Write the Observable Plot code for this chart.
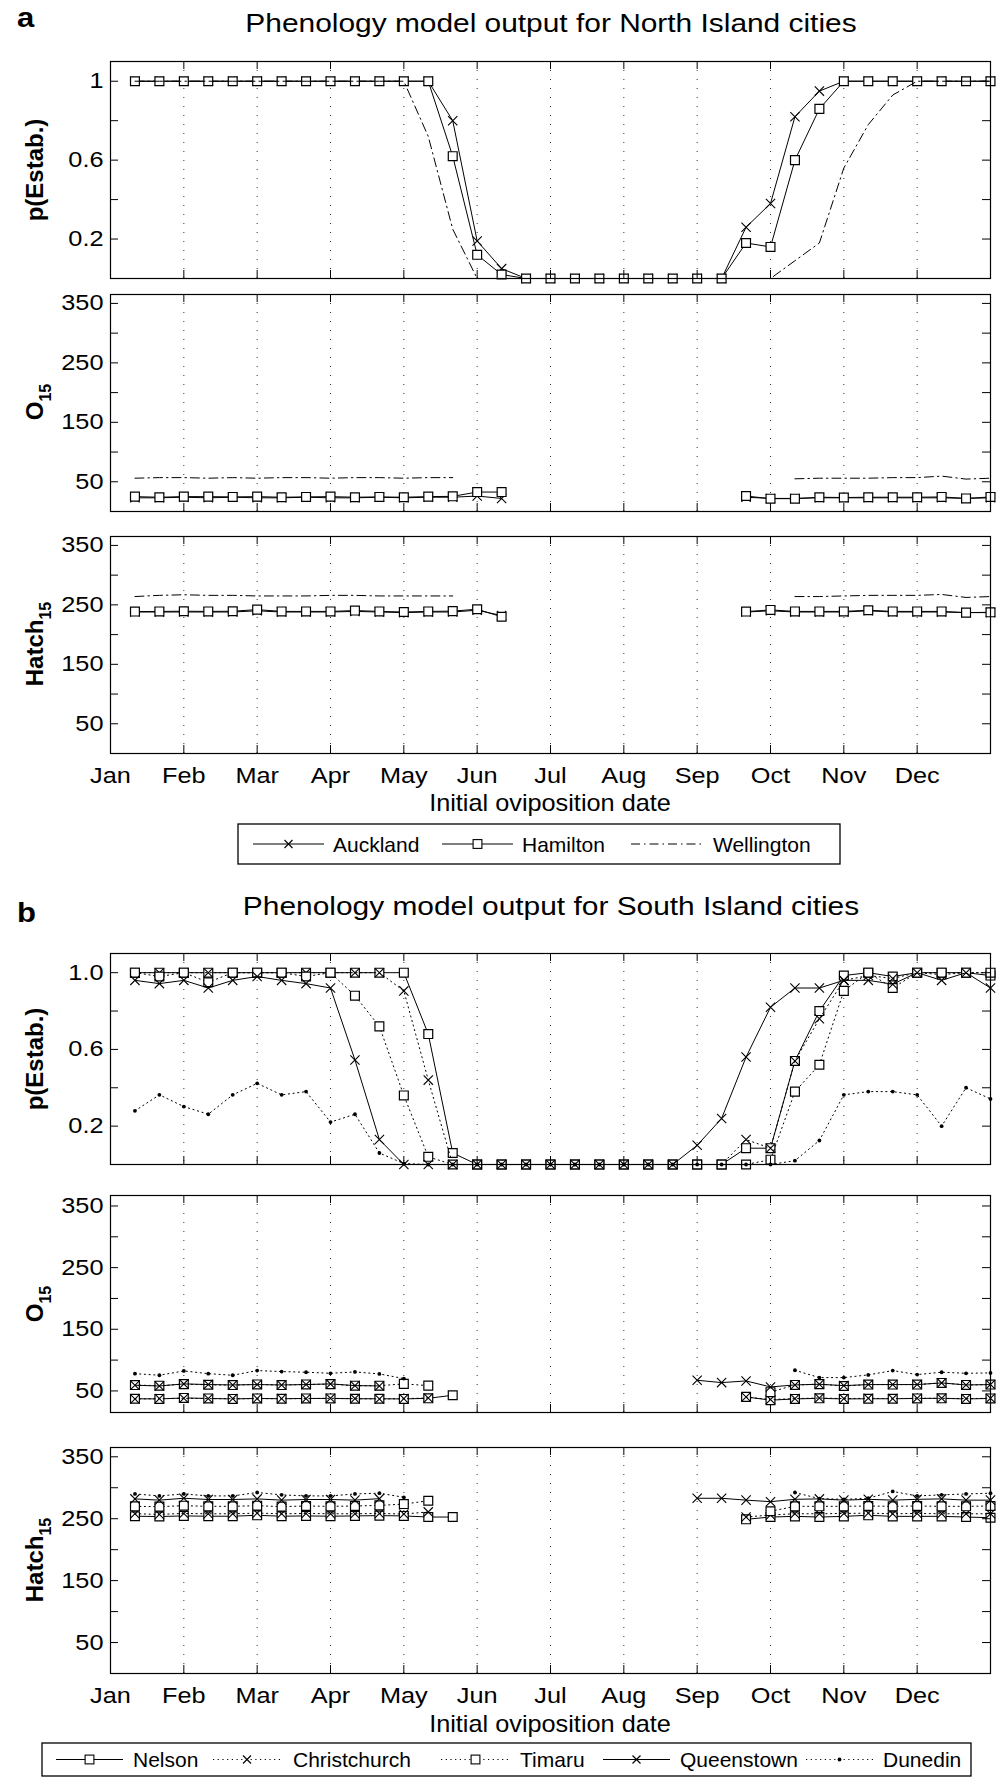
<!DOCTYPE html>
<html><head><meta charset="utf-8">
<script src="https://cdn.jsdelivr.net/npm/d3@7"></script>
<script src="https://cdn.jsdelivr.net/npm/@observablehq/plot@0.6"></script>
<style>
body{margin:0;background:#fff;}
#root{position:relative;width:1000px;height:1777px;overflow:hidden;background:#fff;}
#root svg{position:absolute;left:0;}
</style></head><body><div id="root"></div>
<script>
// ---------- data ----------
const monthNames = ["Jan","Feb","Mar","Apr","May","Jun","Jul","Aug","Sep","Oct","Nov","Dec"];
const monthTicks = [0,1,2,3,4,5,6,7,8,9,10,11];
const gridMonths = [1,2,3,4,5,6,7,8,9,10,11];
// sample number (three samples per month)
const sampleIndex = [1,2,3,4,5,6,7,8,9,10,11,12,13,14,15,16,17,18,19,20,21,22,23,24,25,26,27,28,29,30,31,32,33,34,35,36];
const pTicks = [0.2,0.4,0.6,0.8,1.0];
const pLabels = [0.2,0.6,1.0];
const dayTicks = [50,100,150,200,250,300,350];
const dayLabels = [50,150,250,350];

// North Island
const aucklandP = [1,1,1,1,1,1,1,1,1,1,1,1,1,0.80,0.19,0.05,0,0,0,0,0,0,0,0,0,0.26,0.38,0.82,0.95,1,1,1,1,1,1,1];
const hamiltonP = [1,1,1,1,1,1,1,1,1,1,1,1,1,0.62,0.12,0.02,0,0,0,0,0,0,0,0,0,0.18,0.16,0.60,0.86,1,1,1,1,1,1,1];
const wellingtonP = [1,1,1,1,1,1,1,1,1,1,1,1,0.72,0.25,0,0,0,0,0,0,0,0,0,0,0,0,0,0.09,0.18,0.56,0.78,0.93,1,1,1,1];
const aucklandO15 = [23,23,24,23,24,23,23,24,23,23,24,23,24,24,26,22,null,null,null,null,null,null,null,null,null,24,22,22,23,23,23,23,23,23,22,23];
const hamiltonO15 = [25,24,25,25,24.5,25,24,24.5,25,24,24.5,24,25,25.5,32.7,32.7,null,null,null,null,null,null,null,null,null,26,21.6,21.6,24,23.5,24,24,24,24.5,22,24.5];
const wellingtonO15 = [56,57,57,56,57,56,57,57,56,57,57,56,57,57,null,null,null,null,null,null,null,null,null,null,null,null,null,55,56,56,56,57,57,59.5,54.5,56];
const aucklandHatch = [238,238,238,238,238,240,238,238,238,239,238,237,238,238,241,232,null,null,null,null,null,null,null,null,null,238,240,238,238,238,240,238,238,238,237,237];
const hamiltonHatch = [238.7,239,239.3,239,239.3,242,239,239,239,240.4,239,238,239,239.5,242.7,230,null,null,null,null,null,null,null,null,null,238.7,241.5,239,239,239,241,239,239,239,237,237.5];
const wellingtonHatch = [264,266,267,266,266,265,265,265,266,266,265,265,265,265,null,null,null,null,null,null,null,null,null,null,null,null,null,264,264,265,266,266,266,267.5,262.5,264];

// South Island
const nelsonP = [1,1,1,1,1,1,1,1,1,1,1,1,0.68,0.06,0,0,0,0,0,0,0,0,0,0,0,0.085,0.085,0.54,0.80,0.985,1,0.98,1,1,1,0.985];
const christchurchP = [1,1,1,1,1,1,1,1,1,1,1,0.905,0.44,0,0,0,0,0,0,0,0,0,0,0,0,0.13,0.085,0.54,0.76,0.96,0.985,0.97,1,0.99,1,1];
const timaruP = [1,0.98,1,0.95,1,1,1,0.98,1,0.88,0.72,0.36,0.04,0,0,0,0,0,0,0,0,0,0,0,0,0,0.025,0.38,0.52,0.905,1,0.92,1,1,1,1];
const queenstownP = [0.96,0.943,0.96,0.92,0.96,0.98,0.96,0.943,0.92,0.545,0.13,0,0,0,0,0,0,0,0,0,0,0,0,0.10,0.24,0.56,0.82,0.92,0.92,0.96,0.96,0.94,1,0.96,1,0.92];
const dunedinP = [0.28,0.363,0.302,0.262,0.363,0.423,0.363,0.38,0.221,0.262,0.06,0.005,0,0,0,0,0,0,0,0,0,0,0,0,0,0,0,0.02,0.125,0.363,0.38,0.38,0.363,0.2,0.4,0.342];
const nelsonO15 = [37.3,37,38.6,37.8,37,37.8,37.3,37.8,37.8,37.3,37.3,37,38,43,null,null,null,null,null,null,null,null,null,null,null,40.3,35,37,38,37,37.3,37.3,37.8,38,37,37.8];
const christchurchO15 = [37,37.5,38,37.5,37.5,37.5,37.5,37.5,38,37.5,37,37.5,38.5,null,null,null,null,null,null,null,null,null,null,null,null,40,36,37.5,38.5,37.5,38,37.5,38,38,37.5,38];
const timaruO15 = [59.5,58.5,61,60,59.5,60.5,59.5,60.5,61,58.5,58.5,61.4,58.6,null,null,null,null,null,null,null,null,null,null,null,null,null,48,59.7,61,58,60.3,60.3,60.3,63,59.7,60.3];
const queenstownO15 = [59.2,58,61.4,60.3,59.7,60.3,59.7,60.3,61.4,58.6,58.1,null,null,null,null,null,null,null,null,null,null,null,null,67.3,63.5,66.2,56.5,59.7,60.8,58.6,60.3,60.3,60.3,63,59.7,60.3];
const dunedinO15 = [78,75.4,82.4,78,75.4,83,81.4,80.3,78.6,80.8,77.6,70,null,null,null,null,null,null,null,null,null,null,null,null,null,null,null,83.5,71.6,71.6,76,83,76.5,80.3,78.6,79.2];
const nelsonHatch = [254,253.5,254.5,254,254,255.5,254,254.5,254,254.5,255,254.5,252.7,252.7,null,null,null,null,null,null,null,null,null,null,null,249,252.7,253.8,252.7,253.8,255.5,253.8,253.8,253.8,252.7,251.6];
const christchurchHatch = [258,257,258.5,258,258,259,258,258.5,258,258,258.5,257.5,261,null,null,null,null,null,null,null,null,null,null,null,null,252.7,256,258,258,258.5,259,258,258.5,258,258,258];
const timaruHatch = [270,269.5,271,270,270,271,269.5,270.5,270,270.5,271.5,273.6,279,null,null,null,null,null,null,null,null,null,null,null,null,null,262,270,270,270,270.5,270,270.5,270,270,270.5];
const queenstownHatch = [282,280,283,281,281,282,280,281,281,280,282.4,null,null,null,null,null,null,null,null,null,null,null,null,283,283,280,277.5,281.3,282,280,281.3,280,281.3,282,280,280];
const dunedinHatch = [290,286.8,290,286.8,286.8,292.3,288.5,286.8,286.8,290,291.2,284.6,null,null,null,null,null,null,null,null,null,null,null,null,null,null,null,292.3,282.4,281.3,283,294,286.8,288.5,290,291.2];

// ---------- styles ----------
const DASH = {solid: null, dotted: "1.2,3.5", dashdot: "9,4,1.5,4"};
const TEXT_SX = 1.15;
const FONT = "'Liberation Sans', Arial, Helvetica, sans-serif";

const northStyles = {
  Auckland: {dash: "solid", marker: "times"},
  Hamilton: {dash: "solid", marker: "square"},
  Wellington: {dash: "dashdot", marker: null}
};
const southStyles = {
  Nelson: {dash: "solid", marker: "square"},
  Christchurch: {dash: "dotted", marker: "times"},
  Timaru: {dash: "dotted", marker: "square"},
  Queenstown: {dash: "solid", marker: "times"},
  Dunedin: {dash: "dotted", marker: "dot"}
};

function rowsOf(vals) {
  return sampleIndex.map((k, i) => ({month: k / 3, v: vals[i]}));
}

function seriesMarks(vals, st) {
  const rows = rowsOf(vals);
  const out = [Plot.line(rows, {x: "month", y: "v", stroke: "black", strokeWidth: 1, strokeDasharray: DASH[st.dash]})];
  if (st.marker === "square") out.push(Plot.dot(rows, {x: "month", y: "v", symbol: "square", r: 5, fill: "white", stroke: "black", strokeWidth: 1.2}));
  if (st.marker === "times") out.push(Plot.dot(rows, {x: "month", y: "v", symbol: "times", r: 4.3, stroke: "black", strokeWidth: 1.1}));
  if (st.marker === "dot") out.push(Plot.dot(rows, {x: "month", y: "v", r: 1.9, fill: "black", stroke: "none"}));
  return out;
}

const root = document.getElementById("root");

function stretchText(svg, sx) {
  svg.querySelectorAll("text").forEach(t => {
    const x = parseFloat(t.getAttribute("x") || "0") || 0;
    const tr = t.getAttribute("transform") || "";
    t.setAttribute("transform", `${tr} translate(${x},0) scale(${sx},1) translate(${-x},0)`);
  });
}

function panel({top, H, yDomain, yTicks, yLabels, fmt, series, styles, showX}) {
  const mt = 12, mb = showX ? 60 : 12;
  const marks = [Plot.ruleX(gridMonths, {x: d => d, stroke: "#333", strokeWidth: 1, strokeDasharray: "1,8"})];
  for (const [name, vals] of series) marks.push(...seriesMarks(vals, styles[name]));
  marks.push(Plot.frame({stroke: "black", strokeWidth: 1.2}));
  marks.push(Plot.ruleX(gridMonths, {x: d => d, y1: yDomain[0], y2: yDomain[0], insetTop: -8, stroke: "black"}));
  marks.push(Plot.ruleX(gridMonths, {x: d => d, y1: yDomain[1], y2: yDomain[1], insetBottom: -8, stroke: "black"}));
  marks.push(Plot.ruleY(yTicks, {y: d => d, x1: 0, x2: 0, insetRight: -8, stroke: "black"}));
  marks.push(Plot.ruleY(yTicks, {y: d => d, x1: 12, x2: 12, insetLeft: -8, stroke: "black"}));
  const svg = Plot.plot({
    width: 1000, height: mt + H + mb,
    marginLeft: 110, marginRight: 10, marginTop: mt, marginBottom: mb,
    x: {domain: [0, 12], ticks: monthTicks, tickFormat: i => monthNames[i], tickSize: 0, tickPadding: 14, label: null, axis: showX ? "bottom" : null},
    y: {domain: yDomain, ticks: yLabels, tickFormat: fmt, tickSize: 0, tickPadding: 7, label: null},
    style: {fontFamily: FONT, fontSize: "22px", color: "black", background: "none", overflow: "visible"},
    marks
  });
  svg.style.top = (top - mt) + "px";
  root.appendChild(svg);
  stretchText(svg, TEXT_SX);
  return svg;
}

const fmtA = d => String(d);
const fmtB = d => d3.format(".1f")(d);

// Panel a
panel({top: 61, H: 217, yDomain: [0, 1.1], yTicks: pTicks, yLabels: pLabels, fmt: fmtA, styles: northStyles,
  series: [["Auckland", aucklandP], ["Hamilton", hamiltonP], ["Wellington", wellingtonP]]});
panel({top: 294, H: 217, yDomain: [0, 365], yTicks: dayTicks, yLabels: dayLabels, fmt: fmtA, styles: northStyles,
  series: [["Auckland", aucklandO15], ["Hamilton", hamiltonO15], ["Wellington", wellingtonO15]]});
panel({top: 536, H: 217, yDomain: [0, 365], yTicks: dayTicks, yLabels: dayLabels, fmt: fmtA, styles: northStyles, showX: true,
  series: [["Auckland", aucklandHatch], ["Hamilton", hamiltonHatch], ["Wellington", wellingtonHatch]]});
// Panel b
panel({top: 953, H: 211, yDomain: [0, 1.1], yTicks: pTicks, yLabels: pLabels, fmt: fmtB, styles: southStyles,
  series: [["Nelson", nelsonP], ["Christchurch", christchurchP], ["Timaru", timaruP], ["Queenstown", queenstownP], ["Dunedin", dunedinP]]});
panel({top: 1195, H: 217, yDomain: [15, 367], yTicks: dayTicks, yLabels: dayLabels, fmt: fmtA, styles: southStyles,
  series: [["Nelson", nelsonO15], ["Christchurch", christchurchO15], ["Timaru", timaruO15], ["Queenstown", queenstownO15], ["Dunedin", dunedinO15]]});
panel({top: 1447, H: 226, yDomain: [0, 365], yTicks: dayTicks, yLabels: dayLabels, fmt: fmtA, styles: southStyles, showX: true,
  series: [["Nelson", nelsonHatch], ["Christchurch", christchurchHatch], ["Timaru", timaruHatch], ["Queenstown", queenstownHatch], ["Dunedin", dunedinHatch]]});

// ---------- overlay: titles, axis titles, legends ----------
const ov = d3.create("svg").attr("width", 1000).attr("height", 1777)
  .style("top", "0px").style("font-family", FONT).style("pointer-events", "none");
root.appendChild(ov.node());

function txt(str, x, y, {size = 21, weight = "normal", anchor = "start", sx = TEXT_SX, rotate = 0} = {}) {
  return ov.append("text").attr("font-size", size).attr("font-weight", weight).attr("text-anchor", anchor)
    .attr("fill", "black")
    .attr("transform", `translate(${x},${y}) rotate(${rotate}) scale(${sx},1)`).text(str);
}
function ylab(main, sub, cy) {
  const t = ov.append("text").attr("font-size", 24).attr("font-weight", "bold").attr("text-anchor", "middle")
    .attr("transform", `translate(34,${cy}) rotate(-90)`).attr("dy", "0.36em");
  t.append("tspan").text(main);
  if (sub) t.append("tspan").attr("font-size", 16).attr("dy", 8).text(sub);
}

txt("a", 17, 27, {size: 27, weight: "bold"});
txt("Phenology model output for North Island cities", 551, 32, {size: 26, anchor: "middle"});
ylab("p(Estab.)", null, 170);
ylab("O", "15", 402);
ylab("Hatch", "15", 644);
txt("Initial oviposition date", 550, 811, {size: 23, anchor: "middle", sx: 1.1});

txt("b", 17, 922, {size: 27, weight: "bold"});
txt("Phenology model output for South Island cities", 551, 915, {size: 26, anchor: "middle"});
ylab("p(Estab.)", null, 1059);
ylab("O", "15", 1304);
ylab("Hatch", "15", 1560);
txt("Initial oviposition date", 550, 1732, {size: 23, anchor: "middle", sx: 1.1});

// legends
function legend(box, items) {
  ov.append("rect").attr("x", box.x).attr("y", box.y).attr("width", box.w).attr("height", box.h)
    .attr("fill", "white").attr("stroke", "black").attr("stroke-width", 1.3);
  const cy = box.y + box.h / 2;
  for (const it of items) {
    ov.append("line").attr("x1", it.x0).attr("x2", it.x1).attr("y1", cy).attr("y2", cy)
      .attr("stroke", "black").attr("stroke-width", 1).attr("stroke-dasharray", DASH[it.dash]);
    const mx = (it.x0 + it.x1) / 2;
    if (it.marker === "square") ov.append("rect").attr("x", mx - 4.4).attr("y", cy - 4.4).attr("width", 8.8).attr("height", 8.8)
      .attr("fill", "white").attr("stroke", "black").attr("stroke-width", 1.1);
    if (it.marker === "times") ov.append("path").attr("d", `M${mx-4},${cy-4}L${mx+4},${cy+4}M${mx-4},${cy+4}L${mx+4},${cy-4}`)
      .attr("stroke", "black").attr("stroke-width", 1.1);
    if (it.marker === "dot") ov.append("circle").attr("cx", mx).attr("cy", cy).attr("r", 1.9).attr("fill", "black");
    txt(it.label, it.tx, cy + 7.5, {size: 21, sx: 1.0});
  }
}
legend({x: 238, y: 824, w: 602, h: 40}, [
  {label: "Auckland", x0: 253, x1: 324, tx: 333, ...northStyles.Auckland},
  {label: "Hamilton", x0: 442, x1: 513, tx: 522, ...northStyles.Hamilton},
  {label: "Wellington", x0: 631, x1: 702, tx: 713, ...northStyles.Wellington}
]);
legend({x: 42, y: 1743, w: 929, h: 33}, [
  {label: "Nelson", x0: 56, x1: 123, tx: 133, ...southStyles.Nelson},
  {label: "Christchurch", x0: 213, x1: 281, tx: 293, ...southStyles.Christchurch},
  {label: "Timaru", x0: 441, x1: 510, tx: 520, ...southStyles.Timaru},
  {label: "Queenstown", x0: 603, x1: 670, tx: 680, ...southStyles.Queenstown},
  {label: "Dunedin", x0: 806, x1: 873, tx: 883, ...southStyles.Dunedin}
]);
</script></body></html>
